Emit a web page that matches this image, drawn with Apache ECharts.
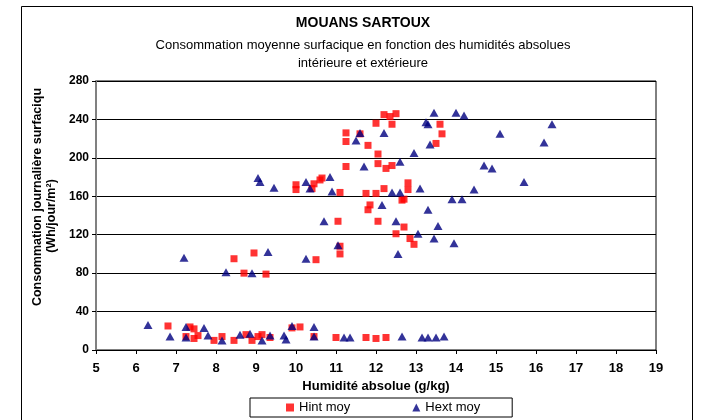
<!DOCTYPE html>
<html>
<head>
<meta charset="utf-8">
<script src="https://cdn.jsdelivr.net/npm/echarts@6/dist/echarts.min.js"></script>
<style>
  html, body { margin: 0; padding: 0; background: #fff; }
  #chart { width: 702px; height: 420px; }
</style>
</head>
<body>
<div id="chart"></div>
<script>
// humidité absolue (g/kg), consommation (Wh/jour/m²)
const hintMoy = [
  [6.8, 25], [7.35, 24], [7.45, 22], [7.25, 14], [7.55, 15], [7.45, 12], [7.95, 10], [8.15, 14],
  [8.45, 10], [8.75, 16], [8.9, 10], [9.05, 14], [9.15, 16], [9.35, 13], [9.9, 23], [10.1, 24],
  [10.45, 14], [11.0, 13], [11.75, 13], [12.0, 12], [12.25, 13],
  [8.45, 95], [8.95, 101], [8.7, 80], [9.25, 79],
  [10.5, 94], [11.1, 108], [11.1, 100], [11.05, 134], [12.05, 134], [12.7, 128], [12.5, 121],
  [12.85, 116], [12.95, 110], [11.8, 146], [11.85, 151], [12.65, 156], [12.7, 157],
  [10.0, 172], [10.0, 167], [10.4, 168], [10.45, 173], [10.6, 177], [10.65, 179], [11.1, 164],
  [11.75, 163], [12.0, 163], [12.2, 168], [12.8, 174], [12.8, 167],
  [11.25, 191], [12.05, 194], [12.25, 189], [12.4, 192],
  [12.05, 204], [11.8, 213], [11.25, 217], [11.25, 226], [11.6, 225], [13.5, 215], [13.65, 225],
  [13.6, 235], [12.0, 236], [12.4, 235], [12.2, 245], [12.35, 243], [12.5, 246]
];
const hextMoy = [
  [6.3, 26], [6.85, 14], [7.25, 24], [7.25, 13], [7.7, 23], [7.8, 15], [8.15, 10], [8.6, 16],
  [8.85, 17], [9.15, 10], [9.35, 15], [9.7, 15], [9.75, 11], [9.9, 25], [10.45, 24], [10.45, 14],
  [11.2, 13], [11.35, 13], [12.65, 14], [13.15, 13], [13.3, 13], [13.5, 13], [13.7, 14],
  [7.2, 96], [8.25, 81], [8.9, 80], [9.3, 102],
  [9.05, 179], [9.1, 175], [9.45, 169],
  [10.25, 95], [11.05, 109], [10.7, 134], [12.5, 134], [12.55, 100], [13.05, 121], [13.45, 116],
  [13.55, 129], [13.95, 111], [13.3, 146], [12.15, 151], [13.9, 157], [14.15, 157],
  [10.25, 175], [10.35, 168], [10.85, 180], [10.9, 165], [11.7, 191], [12.4, 164], [12.6, 164],
  [13.1, 168], [12.6, 196], [12.95, 205], [13.35, 214], [11.5, 218], [11.6, 226], [12.2, 226],
  [13.25, 237], [13.3, 235], [13.45, 247], [14.0, 247], [14.2, 244],
  [14.45, 167], [14.7, 192], [14.9, 189], [15.1, 225], [15.7, 175], [16.2, 216], [16.4, 235]
];
const seriesNames = ["Hint moy", "Hext moy"];
const titleText = "MOUANS SARTOUX";
const subtitleLines = ["Consommation moyenne surfacique en fonction des humidités absolues", "intérieure et extérieure"];
const yNameLines = ["Consommation journalière surfaciqu", "(Wh/jour/m²)"];
const xName = "Humidité absolue (g/kg)";

const font = "Liberation Sans, Arial, sans-serif";
const chart = echarts.init(document.getElementById("chart"));

chart.setOption({
  animation: false,
  backgroundColor: "#fff",
  textStyle: { fontFamily: font, color: "#000" },
  title: {
    text: titleText,
    subtext: subtitleLines.join("\n"),
    left: 358, top: 11, textAlign: "center", itemGap: 6,
    textStyle: { fontFamily: font, fontSize: 14, fontWeight: "bold", color: "#000" },
    subtextStyle: { fontFamily: font, fontSize: 13, color: "#000", lineHeight: 18 },
  },
  legend: {
    left: 250, top: 398,
    padding: [3, 32, 3, 36],
    itemGap: 62, itemWidth: 8, itemHeight: 8, itemTextGap: 2,
    borderColor: "#000", borderWidth: 1,
    textStyle: { fontFamily: font, fontSize: 13, color: "#000" },
    data: [{ name: seriesNames[0], icon: "rect" }, { name: seriesNames[1], icon: "triangle" }],
  },
  grid: {
    left: 96, right: 46, top: 81, bottom: 70,
    show: true, borderColor: "#000", borderWidth: 1,
  },
  xAxis: {
    type: "value", min: 5, max: 19, interval: 1,
    name: xName, nameLocation: "middle", nameGap: 30,
    nameTextStyle: { fontFamily: font, fontSize: 13, fontWeight: "bold", color: "#000" },
    axisLine: { lineStyle: { color: "#000", width: 1 } },
    axisTick: { show: true, length: 4, lineStyle: { color: "#000" } },
    axisLabel: { fontFamily: font, fontSize: 13, fontWeight: "bold", color: "#000", margin: 12 },
    splitLine: { show: false },
  },
  yAxis: {
    type: "value", min: 0, max: 280, interval: 40,
    axisLine: { show: true, lineStyle: { color: "#808080", width: 2 } },
    axisTick: { show: true, length: 4, lineStyle: { color: "#000" } },
    axisLabel: { fontFamily: font, fontSize: 12, fontWeight: "bold", color: "#000", margin: 7 },
    splitLine: { show: true, lineStyle: { color: "#000", width: 1 } },
  },
  graphic: [
    { type: "rect", shape: { x: 21.5, y: 6.5, width: 671, height: 440 }, style: { fill: "none", stroke: "#000", lineWidth: 1 }, silent: true },
    { type: "text", x: 38, y: 197, rotation: Math.PI / 2,
      style: { text: yNameLines[0], font: "bold 12.5px " + font, fill: "#000", textAlign: "center", textVerticalAlign: "middle" } },
    { type: "text", x: 52, y: 216, rotation: Math.PI / 2,
      style: { text: yNameLines[1], font: "bold 12.5px " + font, fill: "#000", textAlign: "center", textVerticalAlign: "middle" } },
  ],
  series: [
    { name: seriesNames[0], type: "scatter", symbol: "rect", symbolSize: 7, data: hintMoy,
      itemStyle: { color: "#ff0000" } },
    { name: seriesNames[1], type: "scatter", symbol: "triangle", symbolSize: [9, 8], data: hextMoy,
      itemStyle: { color: "#000080" } },
  ],
});
</script>
</body>
</html>
